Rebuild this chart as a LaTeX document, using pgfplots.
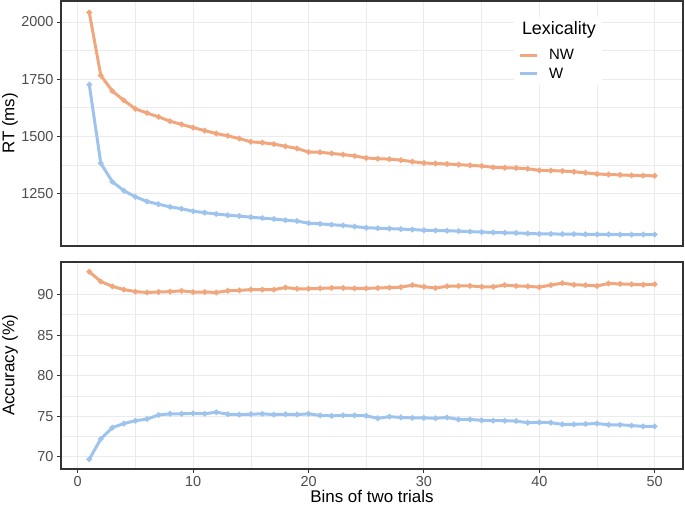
\documentclass[border=0pt]{standalone}
\usepackage{fontspec}
\setmainfont{Liberation Sans}
\usepackage{pgfplots}
\usepackage{pgfplotstable}
\pgfplotsset{compat=1.18}

\definecolor{nwcol}{RGB}{241,167,126}
\definecolor{wcol}{RGB}{158,196,238}
\definecolor{grid92}{RGB}{235,235,235}
\definecolor{grey20}{RGB}{51,51,51}
\definecolor{grey30}{RGB}{77,77,77}

% RT by bin (ms)
\pgfplotstableread{
bin nw   w
1   2042 1726
2   1766 1382
3   1698 1301
4   1657 1262
5   1620 1235
6   1602 1215
7   1585 1203
8   1566 1191
9   1552 1183
10  1538 1172
11  1525 1166
12  1512 1160
13  1502 1155
14  1490 1151
15  1476 1146
16  1472 1142
17  1466 1138
18  1456 1133
19  1447 1129
20  1431 1120
21  1430 1117
22  1425 1113
23  1420 1110
24  1414 1105
25  1405 1100
26  1402 1098
27  1400 1096
28  1396 1094
29  1389 1092
30  1383 1089
31  1381 1088
32  1379 1087
33  1376 1085
34  1373 1083
35  1370 1081
36  1364 1079
37  1362 1078
38  1361 1077
39  1358 1075
40  1351 1073
41  1350 1073
42  1348 1072
43  1345 1072
44  1340 1071
45  1335 1071
46  1333 1071
47  1331 1070
48  1329 1070
49  1328 1070
50  1327 1070
}\rtdata

% accuracy by bin (%)
\pgfplotstableread{
bin nw    w
1   92.8  69.7
2   91.6  72.2
3   91.0  73.6
4   90.6  74.1
5   90.35 74.45
6   90.25 74.65
7   90.3  75.15
8   90.35 75.3
9   90.45 75.3
10  90.3  75.35
11  90.3  75.3
12  90.25 75.5
13  90.45 75.25
14  90.5  75.2
15  90.6  75.25
16  90.6  75.3
17  90.6  75.2
18  90.85 75.25
19  90.7  75.2
20  90.7  75.3
21  90.75 75.1
22  90.8  75.05
23  90.8  75.1
24  90.75 75.1
25  90.75 75.05
26  90.8  74.75
27  90.85 74.95
28  90.9  74.85
29  91.15 74.8
30  90.95 74.8
31  90.8  74.75
32  91.0  74.85
33  91.05 74.6
34  91.05 74.6
35  90.95 74.5
36  90.95 74.45
37  91.15 74.45
38  91.05 74.4
39  91.0  74.2
40  90.9  74.25
41  91.15 74.2
42  91.4  74.0
43  91.2  74.0
44  91.15 74.05
45  91.05 74.1
46  91.35 73.95
47  91.3  73.95
48  91.25 73.85
49  91.2  73.75
50  91.25 73.75
}\accdata

\pgfplotsset{
  panel/.style={
    scale only axis,
    width=622bp,
    xmin=-1.45, xmax=52.45,
    xtick={0,10,...,50},
    minor x tick num=1,
    minor y tick num=1,
    grid=both,
    major grid style={line width=1bp, draw=grid92},
    minor grid style={line width=0.55bp, draw=grid92},
    axis line style={line width=1.07bp, draw=grey20},
    tick align=outside,
    xtick pos=bottom, ytick pos=left,
    major tick length=4bp,
    minor tick length=0bp,
    tick style={line width=1bp, draw=grey20},
    tick label style={font=\fontsize{14.5}{14.5}\selectfont, text=grey30},
    /pgf/number format/assume math mode=true,
    /pgf/number format/set thousands separator={},
    every axis y label/.style={at={(axis description cs:-0.082,0.5)}, rotate=90,
      anchor=center, font=\fontsize{17}{17}\selectfont},
    every axis x label/.style={at={(axis description cs:0.5,0)},
      anchor=center, yshift=-27bp, font=\fontsize{17}{17}\selectfont},
  },
  series/.style={line width=3bp, mark=*, mark size=1bp, mark options={solid}},
}

\begin{document}
\begin{tikzpicture}
\useasboundingbox (0,0) rectangle (685bp,509bp);

\begin{axis}[panel,
  at={(61bp,263bp)}, anchor=south west,
  height=245bp,
  ymin=1020, ymax=2092,
  ytick={1250,1500,1750,2000},
  xticklabels={},
  xtick style={draw=none},
  ylabel={RT (ms)},
  legend cell align=left,
  legend image code/.code={\draw[#1, line width=3bp] (0bp,0bp) -- (17bp,0bp);},
  legend style={at={(axis description cs:0.728,0.936)}, anchor=north west,
    draw=none, fill=white, font=\fontsize{15}{15}\selectfont,
    inner xsep=4bp, inner ysep=3bp, row sep=3bp, column sep=9bp},
  ]
  \addlegendimage{empty legend}
  \addlegendentry{\hspace*{-27bp}\raisebox{6bp}{\fontsize{18}{18}\selectfont Lexicality}}
  \addplot[series, nwcol] table[x=bin, y=nw] {\rtdata};
  \addlegendentry{NW}
  \addplot[series, wcol] table[x=bin, y=w] {\rtdata};
  \addlegendentry{W}
\end{axis}

\begin{axis}[panel,
  at={(61bp,40bp)}, anchor=south west,
  height=207bp,
  ymin=68.5, ymax=94.0,
  ytick={70,75,80,85,90},
  ylabel={Accuracy (\%)},
  xlabel={Bins of two trials},
  ]
  \addplot[series, nwcol] table[x=bin, y=nw] {\accdata};
  \addplot[series, wcol] table[x=bin, y=w] {\accdata};
\end{axis}
\end{tikzpicture}
\end{document}
